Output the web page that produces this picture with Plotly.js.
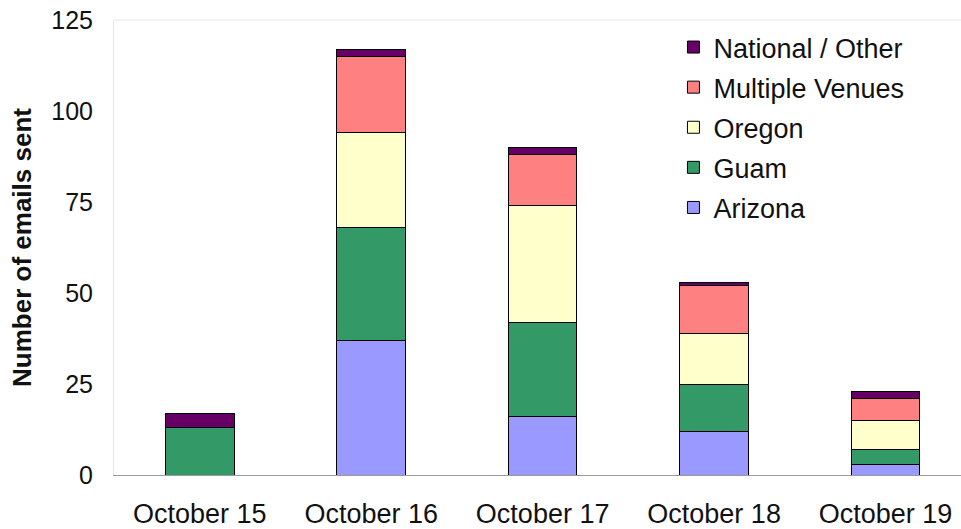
<!DOCTYPE html>
<html>
<head>
<meta charset="utf-8">
<script src="https://cdn.plot.ly/plotly-3.0.1.min.js"></script>
<style>html,body{margin:0;padding:0;background:#fff;overflow:hidden}#chart{width:961px;height:529px}</style>
</head>
<body>
<div id="chart"></div>
<script>
const categories = ["October 15", "October 16", "October 17", "October 18", "October 19"];
const seriesNames = ["Arizona", "Guam", "Oregon", "Multiple Venues", "National / Other"];
const arizona = [0, 37, 16, 12, 3];
const guam = [13, 31, 26, 13, 4];
const oregon = [0, 26, 32, 14, 8];
const multipleVenues = [0, 21, 14, 13, 6];
const nationalOther = [4, 2, 2, 1, 2];
const yTicks = [0, 25, 50, 75, 100, 125];

const seriesValues = [arizona, guam, oregon, multipleVenues, nationalOther];
const colors = ["#9999FF", "#339966", "#FFFFCC", "#FF8080", "#660066"];

const FONT = "Liberation Sans, Arial, sans-serif";
const traces = seriesNames.map((name, i) => ({
  type: "bar",
  name: name,
  x: categories,
  y: seriesValues[i],
  legendgroup: "g" + i,
  legendrank: 1000 - i,
  marker: { color: colors[i], line: { color: "#000", width: 1 } },
  hoverinfo: "x+y+name"
}));

const layout = {
  width: 961,
  height: 529,
  barmode: "stack",
  bargap: 0.6,
  paper_bgcolor: "#fff",
  plot_bgcolor: "#fff",
  margin: { l: 114, r: 0, t: 20, b: 54, pad: 0 },
  font: { family: FONT, color: "#111" },
  showlegend: true,
  legend: {
    x: 0.6605, xanchor: "left",
    y: 0.9934, yanchor: "top",
    traceorder: "grouped",
    tracegroupgap: 2,
    font: { family: FONT, size: 27, color: "#111" },
    bgcolor: "rgba(255,255,255,0)",
    borderwidth: 0
  },
  xaxis: {
    type: "category",
    range: [-0.5, 4.44],
    showgrid: false,
    zeroline: false,
    showline: true,
    linecolor: "#9a9a9a",
    linewidth: 1,
    ticks: "outside",
    ticklen: 15,
    tickcolor: "rgba(0,0,0,0)",
    tickfont: { family: FONT, size: 27, color: "#111" }
  },
  yaxis: {
    range: [0, 125],
    tickvals: yTicks,
    ticktext: yTicks.map(String),
    showgrid: false,
    zeroline: false,
    showline: true,
    linecolor: "#e6e6e6",
    linewidth: 1,
    ticks: "outside",
    ticklen: 15,
    tickcolor: "rgba(0,0,0,0)",
    tickfont: { family: FONT, size: 25, color: "#111" },
    title: { text: "<b>Number of emails sent</b>", font: { family: FONT, size: 26, color: "#111" }, standoff: 12 }
  },
  shapes: [
    { type: "line", xref: "paper", yref: "paper", x0: 0, x1: 1, y0: 1, y1: 1, line: { color: "#e6e6e6", width: 1 } }
  ]
};

Plotly.newPlot("chart", traces, layout, { displayModeBar: false, staticPlot: true });
</script>
</body>
</html>
